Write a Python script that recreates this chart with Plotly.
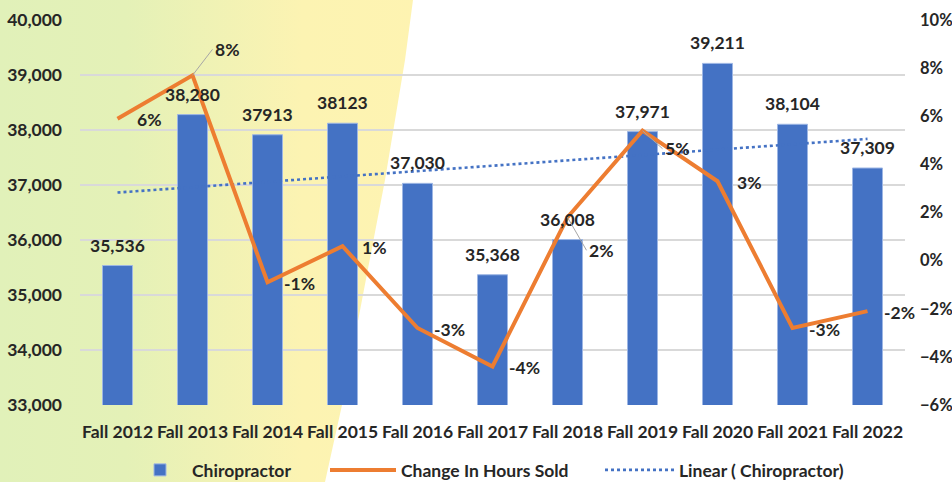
import base64
import numpy as np
import plotly.graph_objects as go

categories = ["Fall 2012", "Fall 2013", "Fall 2014", "Fall 2015", "Fall 2016", "Fall 2017",
              "Fall 2018", "Fall 2019", "Fall 2020", "Fall 2021", "Fall 2022"]
chiropractor = [35536, 38280, 37913, 38123, 37030, 35368, 36008, 37971, 39211, 38104, 37309]
bar_labels = ["35,536", "38,280", "37913", "38123", "37,030", "35,368", "36,008", "37,971",
              "39,211", "38,104", "37,309"]
hours_change = [0.059, 0.077, -0.009, 0.006, -0.028, -0.044, 0.018, 0.054, 0.033, -0.028, -0.021]

W, H = 952, 482
L, R, T, B = 80, 47, 20, 77
PW, PH = W - L - R, H - T - B

BLUE = "#4472C4"
ORANGE = "#ED7D31"
TXT = "#262626"
FONT = "Lato"
FS = 17.5


def f(size=FS):
    return dict(size=size, color=TXT, family=FONT, weight="bold")


# linear trend of the bars
idx = np.arange(len(chiropractor))
slope, intercept = np.polyfit(idx, chiropractor, 1)
trend = slope * idx + intercept

fig = go.Figure()
fig.add_trace(go.Bar(
    x=categories, y=chiropractor, name="Chiropractor",
    marker=dict(color=BLUE, line=dict(color="#9db6e4", width=1)),
    width=0.4, yaxis="y", legend="legend",
))
fig.add_trace(go.Scatter(
    x=categories, y=hours_change, name="Change In Hours Sold", mode="lines",
    line=dict(color=ORANGE, width=4), yaxis="y2", legend="legend2",
))
fig.add_trace(go.Scatter(
    x=categories, y=trend, name="Linear ( Chiropractor)", mode="lines",
    line=dict(color=BLUE, width=2.6, dash="dot"), yaxis="y", legend="legend3",
))

ann = []
for c, v, t in zip(categories, chiropractor, bar_labels):
    ann.append(dict(x=c, y=v, xref="x", yref="y", text=t, showarrow=False,
                    yanchor="bottom", yshift=8, font=f()))

# line label placement (style): special leader-line labels
leader = {1: (20, -26), 6: (19, 33), 7: (20, 18)}
for i, (c, v) in enumerate(zip(categories, hours_change)):
    txt = f"{round(v * 100):.0f}%"
    if i in leader:
        ax, ay = leader[i]
        ann.append(dict(x=c, y=v, xref="x", yref="y2", text=txt, showarrow=True,
                        ax=ax, ay=ay, arrowhead=0, arrowwidth=1, arrowcolor="#a6a6a6",
                        standoff=0, xanchor="left", font=f()))
    else:
        ann.append(dict(x=c, y=v, xref="x", yref="y2", text=txt, showarrow=False,
                        xshift=32, yshift=-1, font=f()))

svg = (
    f'<svg xmlns="http://www.w3.org/2000/svg" width="{W}" height="{H}" viewBox="0 0 {W} {H}" '
    'preserveAspectRatio="none"><defs><linearGradient id="g" x1="0" y1="0" x2="420" y2="0" '
    'gradientUnits="userSpaceOnUse"><stop offset="0" stop-color="#e1f1b9"/>'
    '<stop offset="0.3" stop-color="#e4f1b7"/><stop offset="0.72" stop-color="#fcf3b2"/>'
    '<stop offset="1" stop-color="#fef3b1"/></linearGradient></defs>'
    '<path d="M0 0 L413 0 L405 60 L385 180 L362 300 L342 405 L325 482 L0 482 Z" fill="url(#g)"/></svg>'
)
src = "data:image/svg+xml;base64," + base64.b64encode(svg.encode()).decode()

leg_y = (H - 470) / H
leg_common = dict(orientation="h", xref="container", yref="container", y=leg_y,
                  yanchor="middle", xanchor="left", font=f(), bgcolor="rgba(0,0,0,0)")

fig.update_layout(
    width=W, height=H,
    margin=dict(l=L, r=R, t=T, b=B, autoexpand=False),
    paper_bgcolor="white", plot_bgcolor="rgba(0,0,0,0)",
    font=dict(family=FONT, size=FS, color=TXT),
    showlegend=True,
    legend=dict(**leg_common, x=128 / W, itemwidth=54),
    legend2=dict(**leg_common, x=325 / W, itemwidth=66),
    legend3=dict(**leg_common, x=600 / W, itemwidth=69),
    xaxis=dict(showgrid=False, showline=False, ticks="", ticklabelstandoff=14,
               range=[-0.5, 10.5], automargin=False, tickfont=f()),
    yaxis=dict(range=[33000, 40000], dtick=1000, tickformat=",", showgrid=True,
               gridcolor="#d9d9d9", gridwidth=1.5, zeroline=False, showline=False,
               automargin=False, ticklabelstandoff=17, tickfont=f()),
    yaxis2=dict(range=[-0.06, 0.10], dtick=0.02, tickformat=".0%", overlaying="y",
                side="right", showgrid=False, zeroline=False, showline=False,
                automargin=False, ticklabelstandoff=14, tickfont=f(16.5)),
    annotations=ann,
    images=[dict(source=src, xref="paper", yref="paper", x=-L / PW, y=1 + T / PH,
                 sizex=W / PW, sizey=H / PH, xanchor="left", yanchor="top",
                 sizing="stretch", layer="below")],
)

fig.write_html(
    "out.html",
    config={"responsive": False, "displayModeBar": False},
    post_script="document.body.style.margin='0';document.body.style.overflow='hidden';",
)
